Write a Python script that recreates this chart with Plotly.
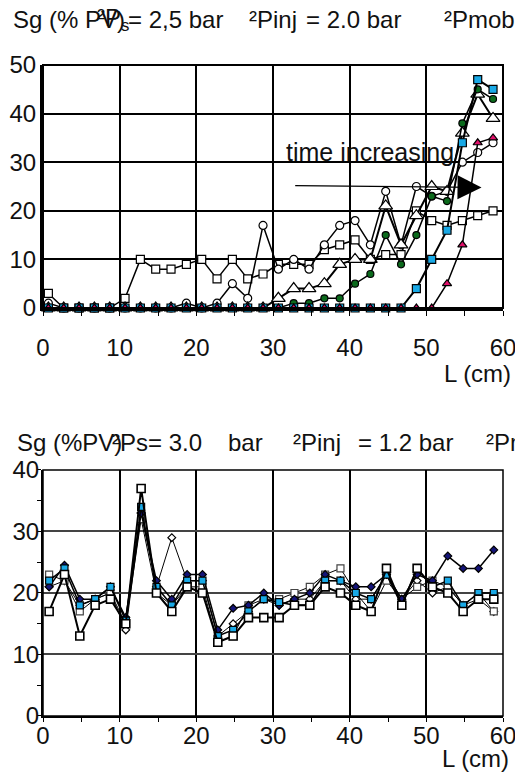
import plotly.graph_objects as go

# ---------------- data ----------------
L_top = [0.7, 2.7, 4.7, 6.7, 8.7, 10.7, 12.7, 14.7, 16.7, 18.7, 20.7, 22.7, 24.7, 26.7, 28.7,
         30.7, 32.7, 34.7, 36.7, 38.7, 40.7, 42.7, 44.7, 46.7, 48.7, 50.7, 52.7, 54.7, 56.7, 58.7]
top_sq_open = [3, 0, 0, 0, 0, 2, 10, 8, 8, 9, 10, 6, 10, 6, 7, 9, 9, 9, 12, 13, 14, 10, 11, 11, 20, 18, 17, 18, 19, 20]
top_circ_open = [1, 0, 0, 0, 0, 0, 0, 0, 0, 1, 0, 1, 5, 2, 17, 8, 10, 8, 13, 17, 18, 13, 24, 13, 25, 23, 24, 30, 32, 34]
top_tri_open = [0, 0, 0, 0, 0, 0, 0, 0, 0, 0, 0, 0, 0, 0, 0, 2, 4, 4, 5, 9, 10, 10, 21, 13, 19, 25, 24, 36, 44, 39]
top_circ_green = [0, 0, 0, 0, 0, 0, 0, 0, 0, 0, 0, 0, 0, 0, 0, 0, 1, 1, 2, 2, 5, 7, 15, 9, 15, 23, 22, 38, 45, 43]
top_sq_blue = [0, 0, 0, 0, 0, 0, 0, 0, 0, 0, 0, 0, 0, 0, 0, 0, 0, 0, 0, 0, 0, 0, 0, 0, 4, 10, 16, 34, 47, 45]
top_tri_pink = [0, 0, 0, 0, 0, 0, 0, 0, 0, 0, 0, 0, 0, 0, 0, 0, 0, 0, 0, 0, 0, 0, 0, 0, 0, 0, 5, 13, 34, 35]

L_bot = [0.8, 2.8, 4.8, 6.8, 8.8, 10.8, 12.8, 14.8, 16.8, 18.8, 20.8, 22.8, 24.8, 26.8, 28.8,
         30.8, 32.8, 34.8, 36.8, 38.8, 40.8, 42.8, 44.8, 46.8, 48.8, 50.8, 52.8, 54.8, 56.8, 58.8]
bot_navy = [21, 24.5, 19, 19, 21, 16, 33, 22, 19, 23, 23, 14, 17.5, 18, 20, 18, 19, 20, 23, 22, 21, 21, 23, 19, 23, 22, 26, 24, 24, 27]
bot_cyan = [22, 24, 18, 19, 21, 15.5, 34, 21, 18, 22, 22, 13, 14, 17, 19, 18.5, 18, 18, 22, 22, 20, 19, 23, 18, 24, 21, 22, 18, 20, 20]
bot_sq1 = [17, 23, 13, 18, 19, 15, 37, 20, 17, 21, 20, 12, 13, 16, 16, 16, 18, 18, 21, 20, 18, 17, 24, 18, 24, 21, 20, 17, 19, 19]
bot_sq2 = [23, 22, 17, 19, 20, 15, 32, 20, 18, 21, 21, 12, 13, 18, 19, 19, 20, 21, 23, 24, 20, 17, 22, 19, 21, 22, 21, 18, 20, 17]
bot_diam = [21, 22, 18, 19, 20, 14, 33, 21, 29, 22, 22, 13, 15, 17, 19, 18, 19, 19, 22, 22, 19, 19, 23, 19, 22, 20, 21, 18, 19, 17]

x_ticks = [0, 10, 20, 30, 40, 50, 60]
top_y_ticks = [0, 10, 20, 30, 40, 50]
bot_y_ticks = [0, 10, 20, 30, 40]

# title pieces (text, left position in page px)
top_title = [("Sg (% PV)", 12), ("²P<sub>s</sub>", 96), ("= 2,5 bar", 127),
             ("²Pinj", 248), ("= 2.0 bar", 305), ("²Pmob", 443)]
bot_title = [("Sg (%PV)", 16), ("²Ps", 111), ("= 3.0", 147), ("bar", 227),
             ("²Pinj", 292), ("= 1.2 bar", 357), ("²Pmob", 485)]

FONT = "Liberation Sans, Arial, sans-serif"
OFF = 8  # default page body margin
W, H = 523 - OFF, 774 - OFF
ML, MT = 43 - OFF, 65 - OFF
MR = W - (503 - OFF)
MB = H - (716 - OFF)
PW, PH = W - ML - MR, H - MT - MB


def px_to_paper(px, py):
    fx, fy = px - OFF, py - OFF
    return (fx - ML) / PW, (H - MB - fy) / PH


fig = go.Figure()


def add(x, y, xa, ya, symbol, size, fill, lw, mlw=1.2, mcolor="black"):
    fig.add_trace(go.Scatter(
        x=x, y=y, xaxis=xa, yaxis=ya, mode="lines+markers", cliponaxis=False,
        line=dict(color="black", width=lw),
        marker=dict(symbol=symbol, size=size, color=fill, line=dict(color=mcolor, width=mlw)),
        showlegend=False, hoverinfo="skip"))


# top chart
add(L_top, top_sq_open, "x", "y", "square", 8, "white", 1.5)
add(L_top, top_circ_open, "x", "y", "circle", 8, "white", 1.5)
add(L_top, top_tri_open, "x", "y", "triangle-up", 12, "white", 2)
add(L_top, top_circ_green, "x", "y", "circle", 7, "#0b6a1c", 1.5)
add(L_top, top_sq_blue, "x", "y", "square", 8, "#19a9e6", 2)
add(L_top, top_tri_pink, "x", "y", "triangle-up", 8, "#e0106a", 1.5)

# bottom chart
add(L_bot, bot_diam, "x2", "y2", "diamond", 6, "white", 1)
add(L_bot, bot_sq2, "x2", "y2", "square", 7, "white", 1, mcolor="#444")
add(L_bot, bot_navy, "x2", "y2", "diamond", 6, "#141478", 1.5)
add(L_bot, bot_cyan, "x2", "y2", "square", 7, "#19a9e6", 1.5)
add(L_bot, bot_sq1, "x2", "y2", "square", 8, "white", 2, mlw=1.6)

axis_common = dict(showgrid=True, gridcolor="black", zeroline=False, showline=True,
                   linecolor="black", tickcolor="black",
                   automargin=False,
                   tickfont=dict(size=24, color="#111", family=FONT))

fig.update_layout(
    width=W, height=H,
    margin=dict(l=ML, r=MR, t=MT, b=MB, autoexpand=False),
    paper_bgcolor="white", plot_bgcolor="white",
    font=dict(family=FONT, color="#111"),
    xaxis=dict(domain=[0, 1], anchor="y", range=[0, 60], tickvals=x_ticks, gridwidth=1.5,
               linewidth=3, ticks="outside", ticklen=5, ticklabelstandoff=11,
               minor=dict(dtick=5, ticks="outside", ticklen=5, tickcolor="black", showgrid=False),
               **axis_common),
    yaxis=dict(domain=[0.6267, 1], anchor="x", range=[0, 50], tickvals=top_y_ticks, gridwidth=1.5,
               linewidth=3, ticks="", ticklabelstandoff=-1, **axis_common),
    xaxis2=dict(domain=[0, 1], anchor="y2", range=[0, 60], tickvals=x_ticks, gridwidth=1.5,
                linewidth=2, ticks="outside", ticklen=4, ticklabelstandoff=-7,
                minor=dict(dtick=5, ticks="outside", ticklen=4, tickcolor="black", showgrid=False),
                **axis_common),
    yaxis2=dict(domain=[0, 0.3779], anchor="x2", range=[0, 40], tickvals=bot_y_ticks,
                linewidth=2, ticks="outside", ticklen=4, ticklabelstandoff=-7,
                minor=dict(dtick=5, ticks="outside", ticklen=4, tickcolor="black", showgrid=False),
                **{**axis_common, "gridcolor": "#444"}, gridwidth=2),
    shapes=[
        dict(type="rect", xref="x domain", yref="y domain", x0=0, x1=1, y0=0, y1=1,
             line=dict(color="black", width=2), layer="above"),
        dict(type="rect", xref="x2 domain", yref="y2 domain", x0=0, x1=1, y0=0, y1=1,
             line=dict(color="black", width=1.5), layer="above"),
    ],
)

ann_font = dict(size=24, color="#111", family=FONT)
for txt, lx in top_title:
    xp, yp = px_to_paper(lx, 20)
    fig.add_annotation(xref="paper", yref="paper", x=xp, y=yp, xanchor="left", yanchor="middle",
                       text=txt, showarrow=False, font=ann_font, borderpad=0)
for txt, lx in bot_title:
    xp, yp = px_to_paper(lx, 442)
    fig.add_annotation(xref="paper", yref="paper", x=xp, y=yp, xanchor="left", yanchor="middle",
                       text=txt, showarrow=False, font=ann_font, borderpad=0)

for cx, cy in [(477, 373), (475, 758)]:
    xp, yp = px_to_paper(cx, cy)
    fig.add_annotation(xref="paper", yref="paper", x=xp, y=yp, xanchor="center", yanchor="middle",
                       text="L (cm)", showarrow=False, font=ann_font, borderpad=0)

# time increasing arrow
fig.add_annotation(xref="x", yref="y", x=42.6, y=32, text="time increasing", showarrow=False,
                   font=dict(size=25, color="#111", family=FONT))
fig.add_annotation(xref="x", yref="y", axref="x", ayref="y", x=57.2, y=24.8, ax=32.7, ay=25.2,
                   text="", showarrow=True, arrowhead=2, arrowsize=4, arrowwidth=1.2, arrowcolor="black")

fig.write_html("out.html", config={"displayModeBar": False})
